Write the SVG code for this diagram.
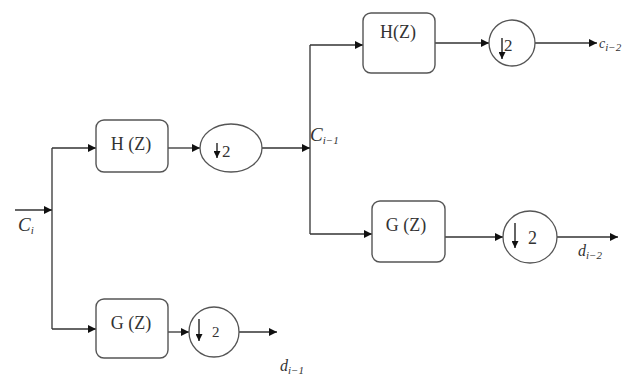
<svg xmlns="http://www.w3.org/2000/svg" width="629" height="376" viewBox="0 0 629 376">
<defs>
<marker id="ah" viewBox="0 0 10 10" refX="10" refY="5" markerWidth="9" markerHeight="8" markerUnits="userSpaceOnUse" orient="auto"><path d="M0,0 L10,5 L0,10 z" fill="#111"/></marker>
<marker id="dh" viewBox="0 0 10 10" refX="10" refY="5" markerWidth="7" markerHeight="7" markerUnits="userSpaceOnUse" orient="auto"><path d="M0,0 L10,5 L0,10 z" fill="#111"/></marker>
</defs>
<style>
.box{fill:#fff;stroke:#555;stroke-width:1.4}
.ell{fill:#fff;stroke:#555;stroke-width:1.3}
.ln{fill:none;stroke:#333;stroke-width:1.3}
.arr{marker-end:url(#ah)}
.dn{stroke:#111;stroke-width:1.3;marker-end:url(#dh)}
.t{font-family:"Liberation Serif",serif;font-size:18px;fill:#333;text-anchor:middle}
.n{font-family:"Liberation Serif",serif;font-size:17px;fill:#333}
.lb{font-family:"Liberation Serif",serif;font-style:italic;font-size:19px;fill:#333}
.sb{font-size:11px}
</style>
<rect width="629" height="376" fill="#fff"/>
<g id="connectors">
<path class="ln arr" d="M15,210 H52"/>
<path class="ln" d="M52,148 V329"/>
<path class="ln arr" d="M52,148 H96"/>
<path class="ln arr" d="M52,329 H96"/>
<path class="ln arr" d="M168,148 H200"/>
<path class="ln arr" d="M262,148 H310"/>
<path class="ln" d="M310,45 V234"/>
<path class="ln arr" d="M310,45 H363"/>
<path class="ln arr" d="M310,234 H372"/>
<path class="ln arr" d="M435,43 H489"/>
<path class="ln arr" d="M535,43 H597"/>
<path class="ln arr" d="M445,237 H503"/>
<path class="ln arr" d="M557,237 H618"/>
<path class="ln arr" d="M168,332 H189"/>
<path class="ln arr" d="M239,332 H277"/>
</g>
<g id="H1">
<rect class="box" x="96" y="120" width="72" height="52" rx="8"/>
<text class="t" x="131" y="150">H (Z)</text>
</g>
<g id="D1">
<ellipse class="ell" cx="231" cy="148" rx="31" ry="24"/>
<line class="dn" x1="217" y1="143" x2="217" y2="158"/>
<text class="n" x="222" y="157">2</text>
</g>
<g id="G1">
<rect class="box" x="96" y="299" width="72" height="59" rx="8"/>
<text class="t" x="131" y="329">G (Z)</text>
</g>
<g id="D2">
<ellipse class="ell" cx="214" cy="332" rx="25" ry="25"/>
<line class="dn" x1="199" y1="319" x2="199" y2="341"/>
<text class="n" x="212" y="337" style="font-size:15px">2</text>
</g>
<g id="H2">
<rect class="box" x="363" y="13" width="72" height="60" rx="8"/>
<text class="t" x="398" y="38">H(Z)</text>
</g>
<g id="D3">
<ellipse class="ell" cx="512" cy="43" rx="23" ry="23"/>
<line class="dn" x1="502" y1="38" x2="502" y2="59"/>
<text class="n" x="504" y="51">2</text>
</g>
<g id="G2">
<rect class="box" x="372" y="201" width="73" height="61" rx="8"/>
<text class="t" x="406" y="231">G (Z)</text>
</g>
<g id="D4">
<ellipse class="ell" cx="530" cy="237" rx="27" ry="26"/>
<line class="dn" x1="515" y1="223" x2="515" y2="248"/>
<text class="n" x="528" y="244" style="font-size:18px">2</text>
</g>
<g id="labels">
<text class="lb" x="18" y="231">C<tspan class="sb" dy="3">i</tspan></text>
<text class="lb" x="310" y="141">C<tspan class="sb" dy="3">i−1</tspan></text>
<text class="lb" x="599" y="48" style="font-size:14px">c<tspan class="sb" dy="3">i−2</tspan></text>
<text class="lb" x="578" y="256" style="font-size:16px">d<tspan class="sb" dy="3">i−2</tspan></text>
<text class="lb" x="280" y="371" style="font-size:16px">d<tspan class="sb" dy="3">i−1</tspan></text>
</g>
</svg>
